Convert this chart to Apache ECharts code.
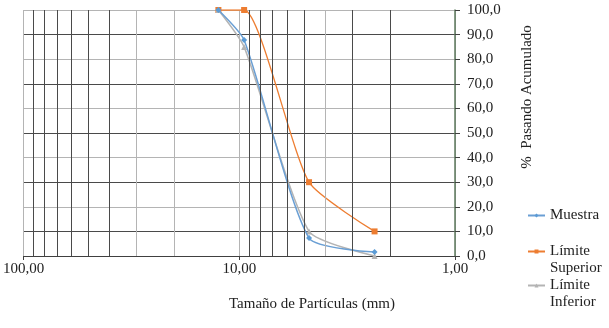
<!DOCTYPE html>
<html>
<head>
<meta charset="utf-8">
<script src="https://cdn.jsdelivr.net/npm/echarts@6/dist/echarts.min.js"></script>
<style>html,body{margin:0;padding:0;background:#fff;}#c{width:609px;height:328px;}</style>
</head>
<body>
<div id="c"></div>
<script>
// Sieve sizes (mm)
var sizes = [12.5, 9.5, 4.75, 2.36];
var muestra = [100, 87.8, 7.3, 1.6];
var limiteSuperior = [100, 100, 30, 10];
var limiteInferior = [100, 85, 10, 0];
var yTicks = [0, 10, 20, 30, 40, 50, 60, 70, 80, 90, 100];
// minor log gridlines
var minorLines = [90, 80, 70, 60, 50, 40, 30, 20, 9, 8, 7, 6, 5, 4, 3, 2];
var minorDark = [true, true, true, true, true, true, false, false, true, true, true, true, true, false, true, true];

function pairs(vals) { return sizes.map(function (s, i) { return [s, vals[i]]; }); }

var FONT = '"Liberation Serif", "Times New Roman", serif';
var chart = echarts.init(document.getElementById('c'), null, { renderer: 'canvas' });

var legendText = { fontFamily: FONT, fontSize: 15, color: '#222', lineHeight: 17 };
function twoLine(n) { return ' \n' + n.replace(' ', '\n'); }

chart.setOption({
  animation: false,
  grid: { left: 23, right: 154, top: 10, bottom: 72, containLabel: false },
  xAxis: {
    type: 'log', logBase: 10, min: 1, max: 100, inverse: true,
    axisLine: { show: true, onZero: false, lineStyle: { color: '#404040', width: 1 } },
    axisTick: { show: true, length: 4, lineStyle: { color: '#404040' } },
    axisLabel: { margin: 6, fontFamily: FONT, fontSize: 15, color: '#222',
      formatter: function (v) { return v.toFixed(2).replace('.', ','); } },
    splitLine: { show: true, lineStyle: { color: '#b4b4b4', width: 1 } }
  },
  yAxis: {
    type: 'value', position: 'right', min: 0, max: 100, interval: 10,
    axisLine: { show: true, onZero: false, lineStyle: { color: '#5e7a5e', width: 1.5 } },
    axisTick: { show: true, inside: false, length: 5, lineStyle: { color: '#404040' } },
    axisLabel: { margin: 12, fontFamily: FONT, fontSize: 15, color: '#222',
      formatter: function (v) { return v.toFixed(1).replace('.', ','); } },
    splitLine: { show: true, lineStyle: { color: ['#b4b4b4', '#4a4a4a'], width: 1 } }
  },
  legend: [
    { data: ['Muestra'], orient: 'vertical', left: 527, top: 207, padding: 0,
      itemWidth: 17, itemHeight: 5, textStyle: legendText },
    { data: ['Límite Superior'], orient: 'vertical', left: 527, top: 226, padding: 0,
      itemWidth: 17, itemHeight: 5, formatter: twoLine, textStyle: legendText },
    { data: ['Límite Inferior'], orient: 'vertical', left: 527, top: 260, padding: 0,
      itemWidth: 17, itemHeight: 5, formatter: twoLine, textStyle: legendText }
  ],
  graphic: [
    { type: 'text', x: 312, y: 304, silent: true,
      style: { text: 'Tamaño de Partículas (mm)', font: '15px ' + FONT, fill: '#222',
        textAlign: 'center', textVerticalAlign: 'middle' } },
    { type: 'text', x: 527, y: 97, rotation: Math.PI / 2, silent: true,
      style: { text: '%  Pasando Acumulado', font: '15px ' + FONT, fill: '#222',
        textAlign: 'center', textVerticalAlign: 'middle' } }
  ],
  series: [
    { name: 'grid-minor', type: 'line', data: [], z: 0, silent: true,
      markLine: { silent: true, symbol: ['none', 'none'], label: { show: false },
        data: minorLines.map(function (v, i) {
          return { xAxis: v, lineStyle: { type: 'solid', width: 1, color: minorDark[i] ? '#4a4a4a' : '#b4b4b4' } };
        }) } },
    { name: 'Límite Superior', type: 'line', data: pairs(limiteSuperior), smooth: 0.2,
      symbol: 'rect', symbolSize: 6, z: 3,
      lineStyle: { color: '#ED7D31', width: 1.3 }, itemStyle: { color: '#ED7D31' } },
    { name: 'Límite Inferior', type: 'line', data: pairs(limiteInferior), smooth: 0.2,
      symbol: 'triangle', symbolSize: 6, z: 3,
      lineStyle: { color: '#B4B4B4', width: 1.5 }, itemStyle: { color: '#B4B4B4' } },
    { name: 'Muestra', type: 'line', data: pairs(muestra), smooth: 0.2,
      symbol: 'diamond', symbolSize: 6, z: 4,
      lineStyle: { color: '#6A9FD4', width: 1.5 }, itemStyle: { color: '#5B9BD5' } }
  ]
});
</script>
</body>
</html>
